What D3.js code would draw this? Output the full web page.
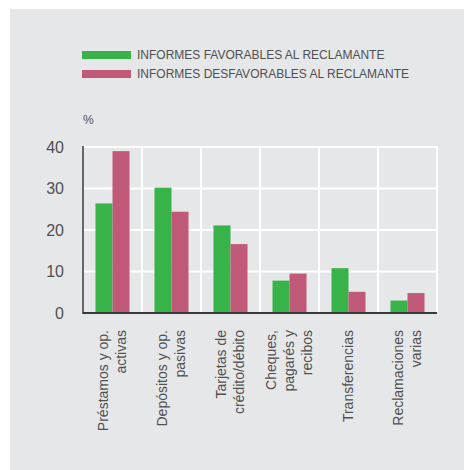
<!DOCTYPE html>
<html>
<head>
<meta charset="utf-8">
<script src="https://cdn.jsdelivr.net/npm/d3@7"></script>
<style>
  html, body { margin: 0; padding: 0; background: #ffffff; }
  svg { display: block; }
  text { font-family: "Liberation Sans", Arial, Helvetica, sans-serif; fill: #505050; }
</style>
</head>
<body>
<svg id="chart" width="464" height="470"></svg>
<script>
// Categories (each label split into its drawn lines)
const categories = [
  ["Préstamos y op.", "activas"],
  ["Depósitos y op.", "pasivas"],
  ["Tarjetas de", "crédito/débito"],
  ["Cheques,", "pagarés y", "recibos"],
  ["Transferencias"],
  ["Reclamaciones", "varias"]
];
const seriesNames = ["INFORMES FAVORABLES AL RECLAMANTE", "INFORMES DESFAVORABLES AL RECLAMANTE"];
const favorables    = [26.4, 30.2, 21.1, 7.8, 10.8, 3.0];
const desfavorables = [39.0, 24.4, 16.6, 9.5, 5.1, 4.8];
const yTicks = [0, 10, 20, 30, 40];
const colors = ["#37b34a", "#c05a78"];

const svg = d3.select("#chart");

// panel background
svg.append("rect").attr("x", 10).attr("y", 9).attr("width", 454).attr("height", 461).attr("fill", "#e6e7e8");

const x0 = 83, x1 = 437, yTop = 147, yBot = 313;
const keys = categories.map((c, i) => i);

const x = d3.scaleBand().domain(keys).range([x0, x1]).paddingInner(0).paddingOuter(0);
const xs = d3.scaleBand().domain([0, 1]).range([0, x.bandwidth()]).paddingInner(0).paddingOuter(0.735);
const y = d3.scaleLinear().domain([0, 40]).range([yBot, yTop]);

// horizontal gridlines
svg.append("g").selectAll("line").data(yTicks.filter(t => t > 0)).join("line")
  .attr("x1", x0).attr("x2", x1).attr("y1", d => y(d)).attr("y2", d => y(d))
  .attr("stroke", "#ffffff").attr("stroke-width", 2);

// vertical gridlines at category boundaries
svg.append("g").selectAll("line").data(keys.slice(1).map(k => x(k)).concat([x1])).join("line")
  .attr("x1", d => d).attr("x2", d => d).attr("y1", yTop - 1).attr("y2", yBot)
  .attr("stroke", "#ffffff").attr("stroke-width", 2);

// bars
const series = [favorables, desfavorables];
const groups = svg.append("g").selectAll("g").data(keys).join("g")
  .attr("transform", k => `translate(${x(k)},0)`);
groups.selectAll("rect").data(k => series.map((s, j) => ({ j, v: s[k] }))).join("rect")
  .attr("x", d => xs(d.j))
  .attr("width", xs.bandwidth())
  .attr("y", d => y(d.v))
  .attr("height", d => yBot - y(d.v))
  .attr("fill", d => colors[d.j]);

// axes lines
svg.append("line").attr("x1", x0).attr("x2", x0).attr("y1", yTop - 1).attr("y2", yBot + 1)
  .attr("stroke", "#231f20").attr("stroke-width", 1.3);
svg.append("line").attr("x1", x0).attr("x2", x1).attr("y1", yBot).attr("y2", yBot)
  .attr("stroke", "#3a3a3a").attr("stroke-width", 2);

// y tick labels
const yAxis = d3.axisLeft(y).tickValues(yTicks).tickSize(0).tickPadding(19);
const gy = svg.append("g").attr("transform", `translate(${x0},0)`).call(yAxis);
gy.select(".domain").remove();
gy.selectAll("text").attr("font-size", 16).attr("fill", "#505050")
  .attr("font-family", "'Liberation Sans', Arial, sans-serif");

// unit label
svg.append("text").attr("x", 83).attr("y", 124).attr("font-size", 12).text("%");

// category labels, rotated
const lineGap = 18;
svg.append("g").selectAll("g").data(keys).join("g")
  .attr("transform", k => `translate(${x(k) + x.bandwidth() / 2},330) rotate(-90)`)
  .each(function(k) {
    const lines = categories[k];
    const n = lines.length;
    d3.select(this).selectAll("text").data(lines).join("text")
      .attr("x", 0)
      .attr("y", (d, i) => (i - (n - 1) / 2) * lineGap)
      .attr("dy", "0.35em")
      .attr("text-anchor", "end")
      .attr("font-size", 14)
      .text(d => d);
  });

// legend
const legend = svg.append("g").selectAll("g").data(seriesNames).join("g")
  .attr("transform", (d, i) => `translate(82,${51 + i * 19})`);
legend.append("rect").attr("width", 49).attr("height", 8).attr("fill", (d, i) => colors[i]);
legend.append("text").attr("x", 55).attr("y", 4).attr("dy", "0.35em").attr("font-size", 12).text(d => d);
</script>
</body>
</html>
